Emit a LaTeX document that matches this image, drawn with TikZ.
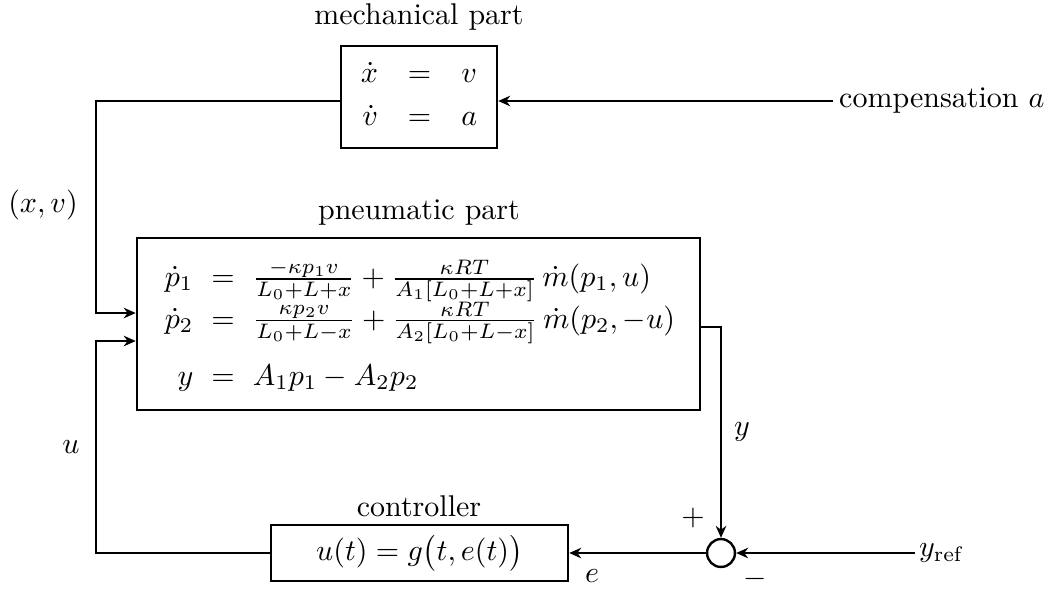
\documentclass[tikz,border=0pt]{standalone}
\usetikzlibrary{arrows.meta}
\begin{document}
\begin{tikzpicture}[x=0.3333pt,y=-0.3333pt,
  line width=0.8pt,
  >={Stealth[length=4pt,width=3.5pt]},
  blockbox/.style={draw,rectangle,inner sep=0pt,align=center},
  sumnode/.style={draw,circle,inner sep=0pt,minimum size=9.3pt},
  lbl/.style={inner sep=0pt}]
\useasboundingbox (0,0) rectangle (1059,589);
% blocks
\node[blockbox,minimum width=52pt,minimum height=34pt] (mech) at (419,97)
  {$\begin{array}{rcl}\dot x &=& v\\[2.3pt] \dot v &=& a\end{array}$};
\node[blockbox,minimum width=187.7pt,minimum height=57.5pt] (pneu) at (418.5,324) {};
\node[lbl] (peq) at (420,328)
  {$\arraycolsep=3pt\begin{array}{rcl}
  \dot p_1 &=& \frac{-\kappa p_1 v}{L_0+L+x} + \frac{\kappa RT}{A_1[L_0+L+x]}\,\dot m(p_1,u)\\[1pt]
  \dot p_2 &=& \frac{\kappa p_2 v}{L_0+L-x} + \frac{\kappa RT}{A_2[L_0+L-x]}\,\dot m(p_2,-u)\\[7pt]
  y &=& A_1p_1 - A_2p_2
  \end{array}$};
\node[blockbox,minimum width=99pt,minimum height=18.7pt] (ctrl) at (419.5,553)
  {$u(t) = g\bigl(t, e(t)\bigr)$};
\node[sumnode] (sum) at (721,553) {};
% labels
\node[lbl] (tmech) at (419,17) {mechanical part};
\node[lbl] (tpneu) at (419,213) {pneumatic part};
\node[lbl] (tctrl) at (419,506) {controller};
\node[lbl] (txv) at (43,205) {$(x,v)$};
\node[lbl] (tu) at (71,447) {$u$};
\node[lbl] (ty) at (742,432) {$y$};
\node[lbl] (tplus) at (693,518) {$+$};
\node[lbl] (tminus) at (755,579) {$-$};
\node[lbl] (te) at (592,576) {$e$};
\node[lbl,anchor=west] (tyref) at (918,553) {$y_{\mathrm{ref}}$};
\node[lbl,anchor=west] (tcomp) at (838,101) {compensation $a$};
% coordinates
\coordinate (cA) at (833,101);
\coordinate (cR) at (915,553);
\coordinate (j1) at (96,313);
\coordinate (j2) at (96,341);
\coordinate (o1) at (700,327);
% connectors
\draw[->] (cA) -- (cA -| mech.east);
\draw[->] (mech.west |- cA) -| (j1) -- (j1 -| pneu.west);
\draw[->] (ctrl.west) -| (j2) -- (j2 -| pneu.west);
\draw[->] (o1) -| (sum.north);
\draw[->] (cR) -- (sum.east);
\draw[->] (sum.west) -- (ctrl.east);
\end{tikzpicture}
\end{document}
